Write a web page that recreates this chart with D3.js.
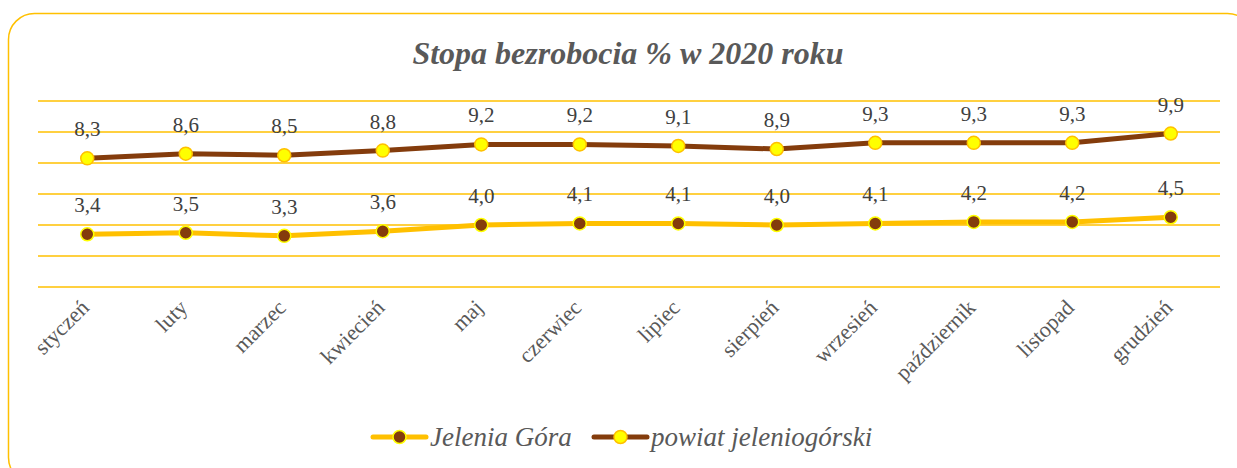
<!DOCTYPE html>
<html>
<head>
<meta charset="UTF-8">
<title>Stopa bezrobocia</title>
<script src="https://cdn.jsdelivr.net/npm/d3@7"></script>
<style>
	body { margin: 0; background: #fff; }
	svg text { font-family: "Liberation Serif", "Times New Roman", serif; }
</style>
</head>
<body>
	<div id="chart"></div>
	<script type="text/javascript">
		// data
		var months = ["styczeń", "luty", "marzec", "kwiecień", "maj", "czerwiec", "lipiec", "sierpień", "wrzesień", "październik", "listopad", "grudzień"];
		var jeleniaGora = [3.4, 3.5, 3.3, 3.6, 4.0, 4.1, 4.1, 4.0, 4.1, 4.2, 4.2, 4.5];
		var powiat = [8.3, 8.6, 8.5, 8.8, 9.2, 9.2, 9.1, 8.9, 9.3, 9.3, 9.3, 9.9];
		var gridTicks = [0, 2, 4, 6, 8, 10, 12];
		var seriesNames = ["Jelenia Góra", "powiat jeleniogórski"];

		var width = 1237, height = 468;
		var svg = d3.select("#chart").append("svg").attr("width", width).attr("height", height);

		// frame
		svg.append("rect").attr("x", 8.5).attr("y", 13.5).attr("width", 1245).attr("height", 470)
			.attr("rx", 26).attr("ry", 26).attr("fill", "#fff").attr("stroke", "#FFC000").attr("stroke-width", 1.5);

		// title
		svg.append("text").attr("x", 628).attr("y", 64).attr("text-anchor", "middle")
			.attr("font-size", 32).attr("font-weight", "bold").attr("font-style", "italic")
			.attr("fill", "#595959").text("Stopa bezrobocia % w 2020 roku");

		var x = d3.scaleBand().domain(months).range([38, 1220]);
		var y = d3.scaleLinear().domain([0, 12]).range([287, 101]);
		var cx = function(d, i) { return x(months[i]) + x.bandwidth() / 2; };

		// grid
		svg.append("g").selectAll("line").data(gridTicks).enter().append("line")
			.attr("x1", 38).attr("x2", 1220)
			.attr("y1", function(d) { return y(d); }).attr("y2", function(d) { return y(d); })
			.attr("stroke", "#FFC000").attr("stroke-width", 1.5);

		// x labels
		svg.append("g").selectAll("text").data(months).enter().append("text")
			.attr("transform", function(d) { return "translate(" + (x(d) + x.bandwidth() / 2 + 3) + ",309) rotate(-45)"; })
			.attr("text-anchor", "end").attr("font-size", 22).attr("fill", "#595959")
			.text(function(d) { return d; });

		var line = d3.line().x(cx).y(function(d) { return y(d); });
		var fmt = function(v) { return v.toFixed(1).replace(".", ","); };

		var drawSeries = function(data, lineColor, lineWidth, dotFill, dotStroke, r) {
			svg.append("path").datum(data).attr("fill", "none").attr("stroke", lineColor)
				.attr("stroke-width", lineWidth).attr("stroke-linejoin", "round").attr("d", line);
			svg.append("g").selectAll("circle").data(data).enter().append("circle")
				.attr("cx", cx).attr("cy", function(d) { return y(d); }).attr("r", r)
				.attr("fill", dotFill).attr("stroke", dotStroke).attr("stroke-width", 1.5);
			svg.append("g").selectAll("text").data(data).enter().append("text")
				.attr("x", cx).attr("y", function(d) { return y(d) - 22; })
				.attr("text-anchor", "middle").attr("font-size", 21).attr("fill", "#404040")
				.text(fmt);
		};

		drawSeries(jeleniaGora, "#FFC000", 5, "#843C0C", "#FFFF00", 6.5);
		drawSeries(powiat, "#843C0C", 5, "#FFFF00", "#FFC000", 6.5);

		// legend
		var legend = [
			{ name: seriesNames[0], x: 373, line: "#FFC000", fill: "#843C0C", stroke: "#FFFF00" },
			{ name: seriesNames[1], x: 594, line: "#843C0C", fill: "#FFFF00", stroke: "#FFC000" }
		];
		var lg = svg.append("g").selectAll("g").data(legend).enter().append("g")
			.attr("transform", function(d) { return "translate(" + d.x + ",437)"; });
		lg.append("line").attr("x1", 0).attr("x2", 53).attr("stroke", function(d) { return d.line; })
			.attr("stroke-width", 5).attr("stroke-linecap", "round");
		lg.append("circle").attr("cx", 26.5).attr("r", 6.5).attr("fill", function(d) { return d.fill; })
			.attr("stroke", function(d) { return d.stroke; }).attr("stroke-width", 1.5);
		lg.append("text").attr("x", 57).attr("y", 9).attr("font-size", 27).attr("font-style", "italic")
			.attr("fill", "#595959").text(function(d) { return d.name; });
	</script>
</body>
</html>
